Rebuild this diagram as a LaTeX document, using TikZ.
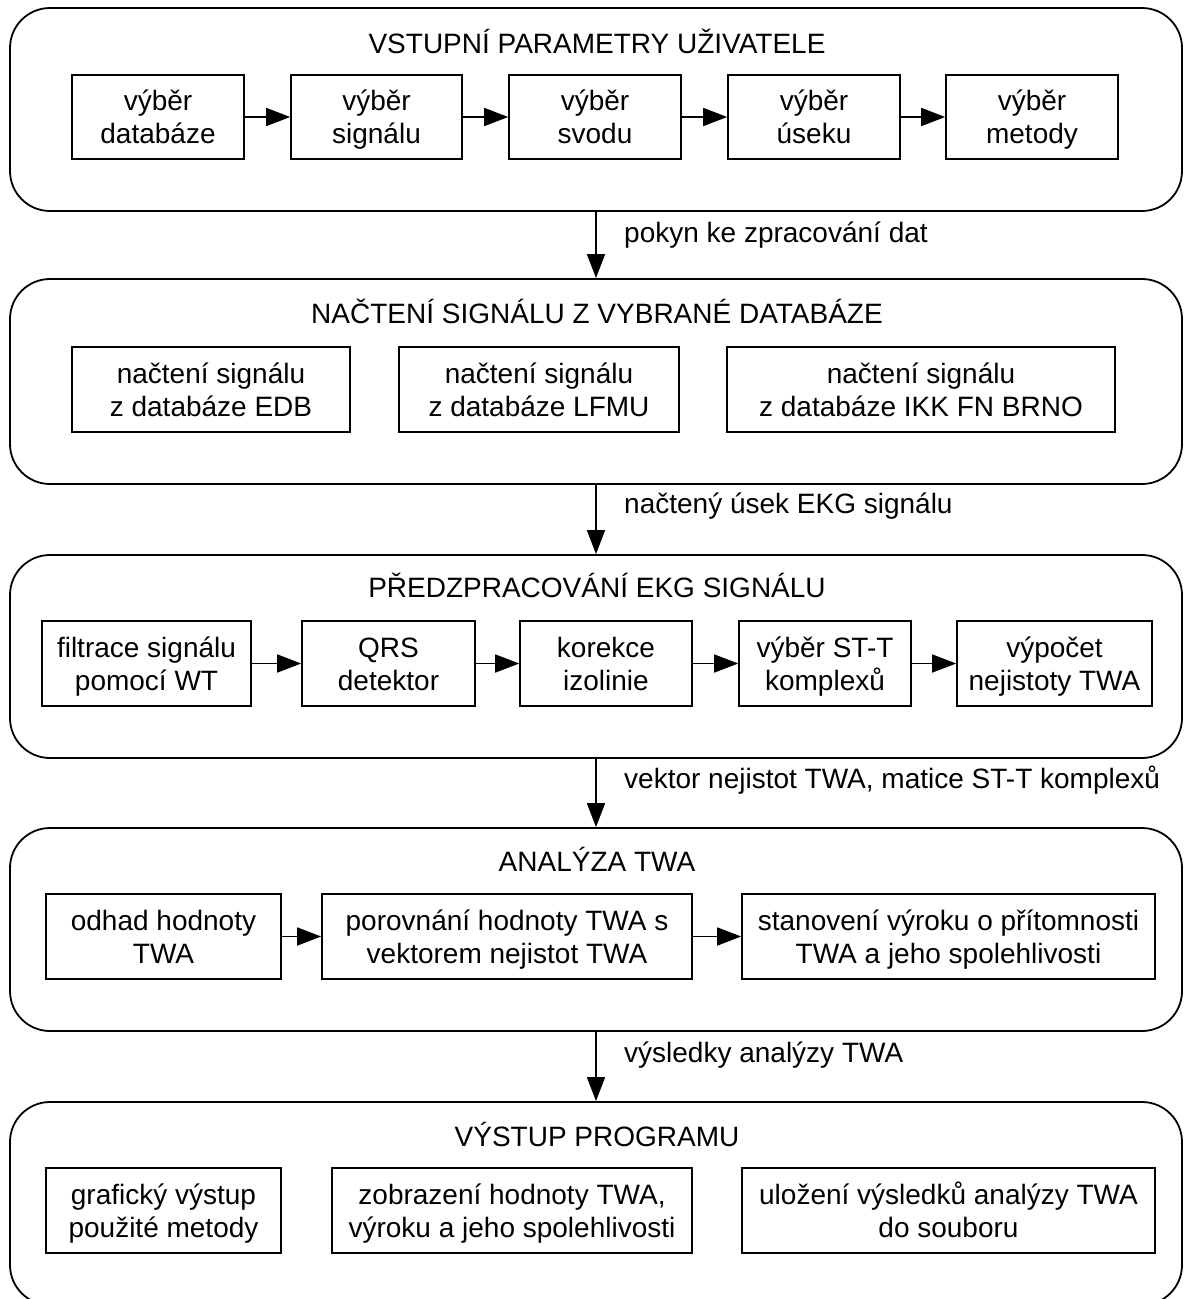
\documentclass[tikz,border=0pt]{standalone}
\usepackage{fontspec}
\setmainfont{Liberation Sans}
\usetikzlibrary{arrows.meta}
\begin{document}
\begin{tikzpicture}[x=1pt,y=-1pt,
  every node/.style={font=\fontsize{28}{33}\selectfont, text=black},
  outer/.style={draw, line width=1.8pt, rounded corners=40pt, inner sep=0pt, minimum width=1172pt},
  box/.style={draw, line width=1.6pt, inner sep=0pt, align=center, minimum height=85pt, text height=53pt, text depth=0pt},
  title/.style={inner sep=0pt, text height=20pt, text depth=0pt},
  lbl/.style={anchor=west, inner sep=0pt, text height=20pt, text depth=0pt},
  flow/.style={line width=1.6pt, -{Triangle[length=24pt,width=18pt]}},
  hflow/.style={line width=1.6pt, -{Triangle[length=24pt,width=18pt]}}
]
\useasboundingbox (0,0) rectangle (1184,1299);
% outer frames
\node[outer, minimum height=203pt] (o1) at (596,109.5) {};
\node[outer, minimum height=205pt] (o2) at (596,381.5) {};
\node[outer, minimum height=203pt] (o3) at (596,656.5) {};
\node[outer, minimum height=203pt] (o4) at (596,929.5) {};
\node[outer, minimum height=203pt] (o5) at (596,1203.5) {};
% titles
\node[title] (t1) at (597,43) {VSTUPNÍ PARAMETRY UŽIVATELE};
\node[title] (t2) at (597,313) {NAČTENÍ SIGNÁLU Z VYBRANÉ DATABÁZE};
\node[title] (t3) at (597,587) {PŘEDZPRACOVÁNÍ EKG SIGNÁLU};
\node[title] (t4) at (597,861) {ANALÝZA TWA};
\node[title] (t5) at (597,1136) {VÝSTUP PROGRAMU};
% row 1
\node[box, minimum width=172pt, minimum height=84pt] (a1) at (158,117) {výběr\\databáze};
\node[box, minimum width=171pt, minimum height=84pt] (a2) at (376.5,117) {výběr\\signálu};
\node[box, minimum width=172pt, minimum height=84pt] (a3) at (595,117) {výběr\\svodu};
\node[box, minimum width=172pt, minimum height=84pt] (a4) at (814,117) {výběr\\úseku};
\node[box, minimum width=172pt, minimum height=84pt] (a5) at (1032,117) {výběr\\metody};
\draw[hflow] (a1) -- (a2);
\draw[hflow] (a2) -- (a3);
\draw[hflow] (a3) -- (a4);
\draw[hflow] (a4) -- (a5);
% row 2
\node[box, minimum width=278pt] (b1) at (211,389.5) {načtení signálu\\z databáze EDB};
\node[box, minimum width=280pt] (b2) at (539,389.5) {načtení signálu\\z databáze LFMU};
\node[box, minimum width=388pt] (b3) at (921,389.5) {načtení signálu\\z databáze IKK FN BRNO};
% row 3
\node[box, minimum width=209pt] (c1) at (146.5,663.5) {filtrace signálu\\pomocí WT};
\node[box, minimum width=173pt] (c2) at (388.5,663.5) {QRS\\detektor};
\node[box, minimum width=172pt] (c3) at (606,663.5) {korekce\\izolinie};
\node[box, minimum width=172pt] (c4) at (825,663.5) {výběr ST-T\\komplexů};
\node[box, minimum width=195pt] (c5) at (1054.5,663.5) {výpočet\\nejistoty TWA};
\draw[hflow] (c1) -- (c2);
\draw[hflow] (c2) -- (c3);
\draw[hflow] (c3) -- (c4);
\draw[hflow] (c4) -- (c5);
% row 4
\node[box, minimum width=235pt] (d1) at (163.5,936.5) {odhad hodnoty\\TWA};
\node[box, minimum width=370pt] (d2) at (507,936.5) {porovnání hodnoty TWA s\\vektorem nejistot TWA};
\node[box, minimum width=413pt] (d3) at (948.5,936.5) {stanovení výroku o přítomnosti\\TWA a jeho spolehlivosti};
\draw[hflow] (d1) -- (d2);
\draw[hflow] (d2) -- (d3);
% row 5
\node[box, minimum width=235pt] (e1) at (163.5,1210.5) {grafický výstup\\použité metody};
\node[box, minimum width=360pt] (e2) at (512,1210.5) {zobrazení hodnoty TWA,\\výroku a jeho spolehlivosti};
\node[box, minimum width=413pt] (e3) at (948.5,1210.5) {uložení výsledků analýzy TWA\\do souboru};
% vertical flow
\draw[flow] (o1.south) -- (o2.north);
\draw[flow] (o2.south) -- (o3.north);
\draw[flow] (o3.south) -- (o4.north);
\draw[flow] (o4.south) -- (o5.north);
% flow labels
\node[lbl] (l1) at (624,232) {pokyn ke zpracování dat};
\node[lbl] (l2) at (624,503) {načtený úsek EKG signálu};
\node[lbl] (l3) at (624,778) {vektor nejistot TWA, matice ST-T komplexů};
\node[lbl] (l4) at (624,1052) {výsledky analýzy TWA};
\end{tikzpicture}
\end{document}
